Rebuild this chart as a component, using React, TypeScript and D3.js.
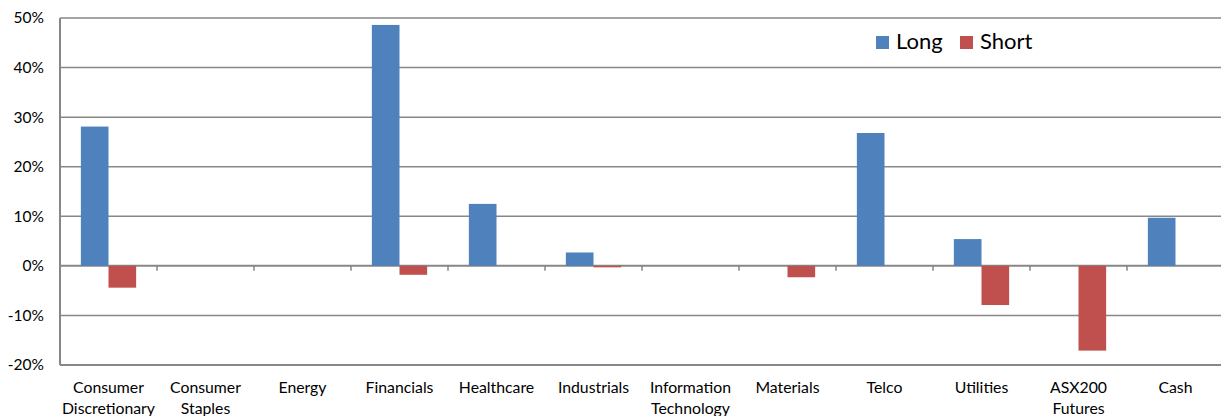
import * as d3 from "d3";

const categories = [
  ["Consumer", "Discretionary"],
  ["Consumer", "Staples"],
  ["Energy"],
  ["Financials"],
  ["Healthcare"],
  ["Industrials"],
  ["Information", "Technology"],
  ["Materials"],
  ["Telco"],
  ["Utilities"],
  ["ASX200", "Futures"],
  ["Cash"],
];
const seriesNames = ["Long", "Short"];
const longValues = [28.1, 0, 0, 48.6, 12.5, 2.7, 0, 0, 26.8, 5.4, 0, 9.7];
const shortValues = [-4.4, 0, 0, -1.8, 0, -0.3, 0, -2.3, 0, -7.9, -17.1, 0];
const yTicks = [-20, -10, 0, 10, 20, 30, 40, 50];
const colors = ["#4F81BD", "#C0504D"];

const WIDTH = 1221;
const HEIGHT = 416;
const PLOT = { left: 60, right: 1224, top: 18, bottom: 365 };
const FONT = "Lato, 'Open Sans', sans-serif";

export default function App() {
  const keys = categories.map((c) => c.join(" "));
  const x = d3.scaleBand().domain(keys).range([PLOT.left, PLOT.right]).padding(0);
  const bw = x.bandwidth();
  const xInner = d3
    .scaleBand()
    .domain(seriesNames)
    .range([bw * 0.215, bw * 0.785])
    .padding(0);
  const y = d3.scaleLinear().domain([-20, 50]).range([PLOT.bottom, PLOT.top]);

  const series = [longValues, shortValues];

  return (
    <svg
      width={WIDTH}
      height={HEIGHT}
      style={{ position: "absolute", left: 0, top: 0, background: "#fff" }}
    >
      {yTicks.map((t) => (
        <g key={t}>
          <line
            x1={PLOT.left}
            x2={PLOT.right}
            y1={y(t)}
            y2={y(t)}
            stroke="#878787"
            strokeWidth={t === 0 || t === -20 ? 2 : 1.5}
          />
          <text
            x={44}
            y={y(t)}
            dy="0.35em"
            textAnchor="end"
            fontFamily={FONT}
            fontSize={15.5}
            fill="#000"
          >
            {t}%
          </text>
        </g>
      ))}
      <line
        x1={PLOT.left}
        x2={PLOT.left}
        y1={PLOT.top}
        y2={PLOT.bottom}
        stroke="#878787"
        strokeWidth={2}
      />
      {keys.slice(1).map((k) => (
        <line
          key={k}
          x1={x(k)}
          x2={x(k)}
          y1={y(0)}
          y2={y(0) + 5}
          stroke="#878787"
          strokeWidth={1.5}
        />
      ))}
      {series.map((vals, si) =>
        vals.map((v, i) => {
          const x0 = (x(keys[i]) ?? 0) + (xInner(seriesNames[si]) ?? 0);
          const yTop = y(Math.max(0, v));
          const h = Math.abs(y(v) - y(0));
          if (h === 0) return null;
          return (
            <rect
              key={`${si}-${i}`}
              x={x0}
              y={yTop}
              width={xInner.bandwidth()}
              height={h}
              fill={colors[si]}
            />
          );
        })
      )}
      {categories.map((lines, i) => (
        <text
          key={keys[i]}
          x={(x(keys[i]) ?? 0) + bw / 2}
          y={393}
          textAnchor="middle"
          fontFamily={FONT}
          fontSize={15.8}
          fill="#000"
        >
          {lines.map((l, li) => (
            <tspan key={li} x={(x(keys[i]) ?? 0) + bw / 2} dy={li === 0 ? 0 : 21}>
              {l}
            </tspan>
          ))}
        </text>
      ))}
      {seriesNames.map((s, si) => {
        const lx = [876, 960][si];
        return (
          <g key={s}>
            <rect x={lx} y={36} width={13} height={13} fill={colors[si]} />
            <text
              x={lx + 20}
              y={49}
              fontFamily={FONT}
              fontSize={22}
              fill="#000"
            >
              {s}
            </text>
          </g>
        );
      })}
    </svg>
  );
}
